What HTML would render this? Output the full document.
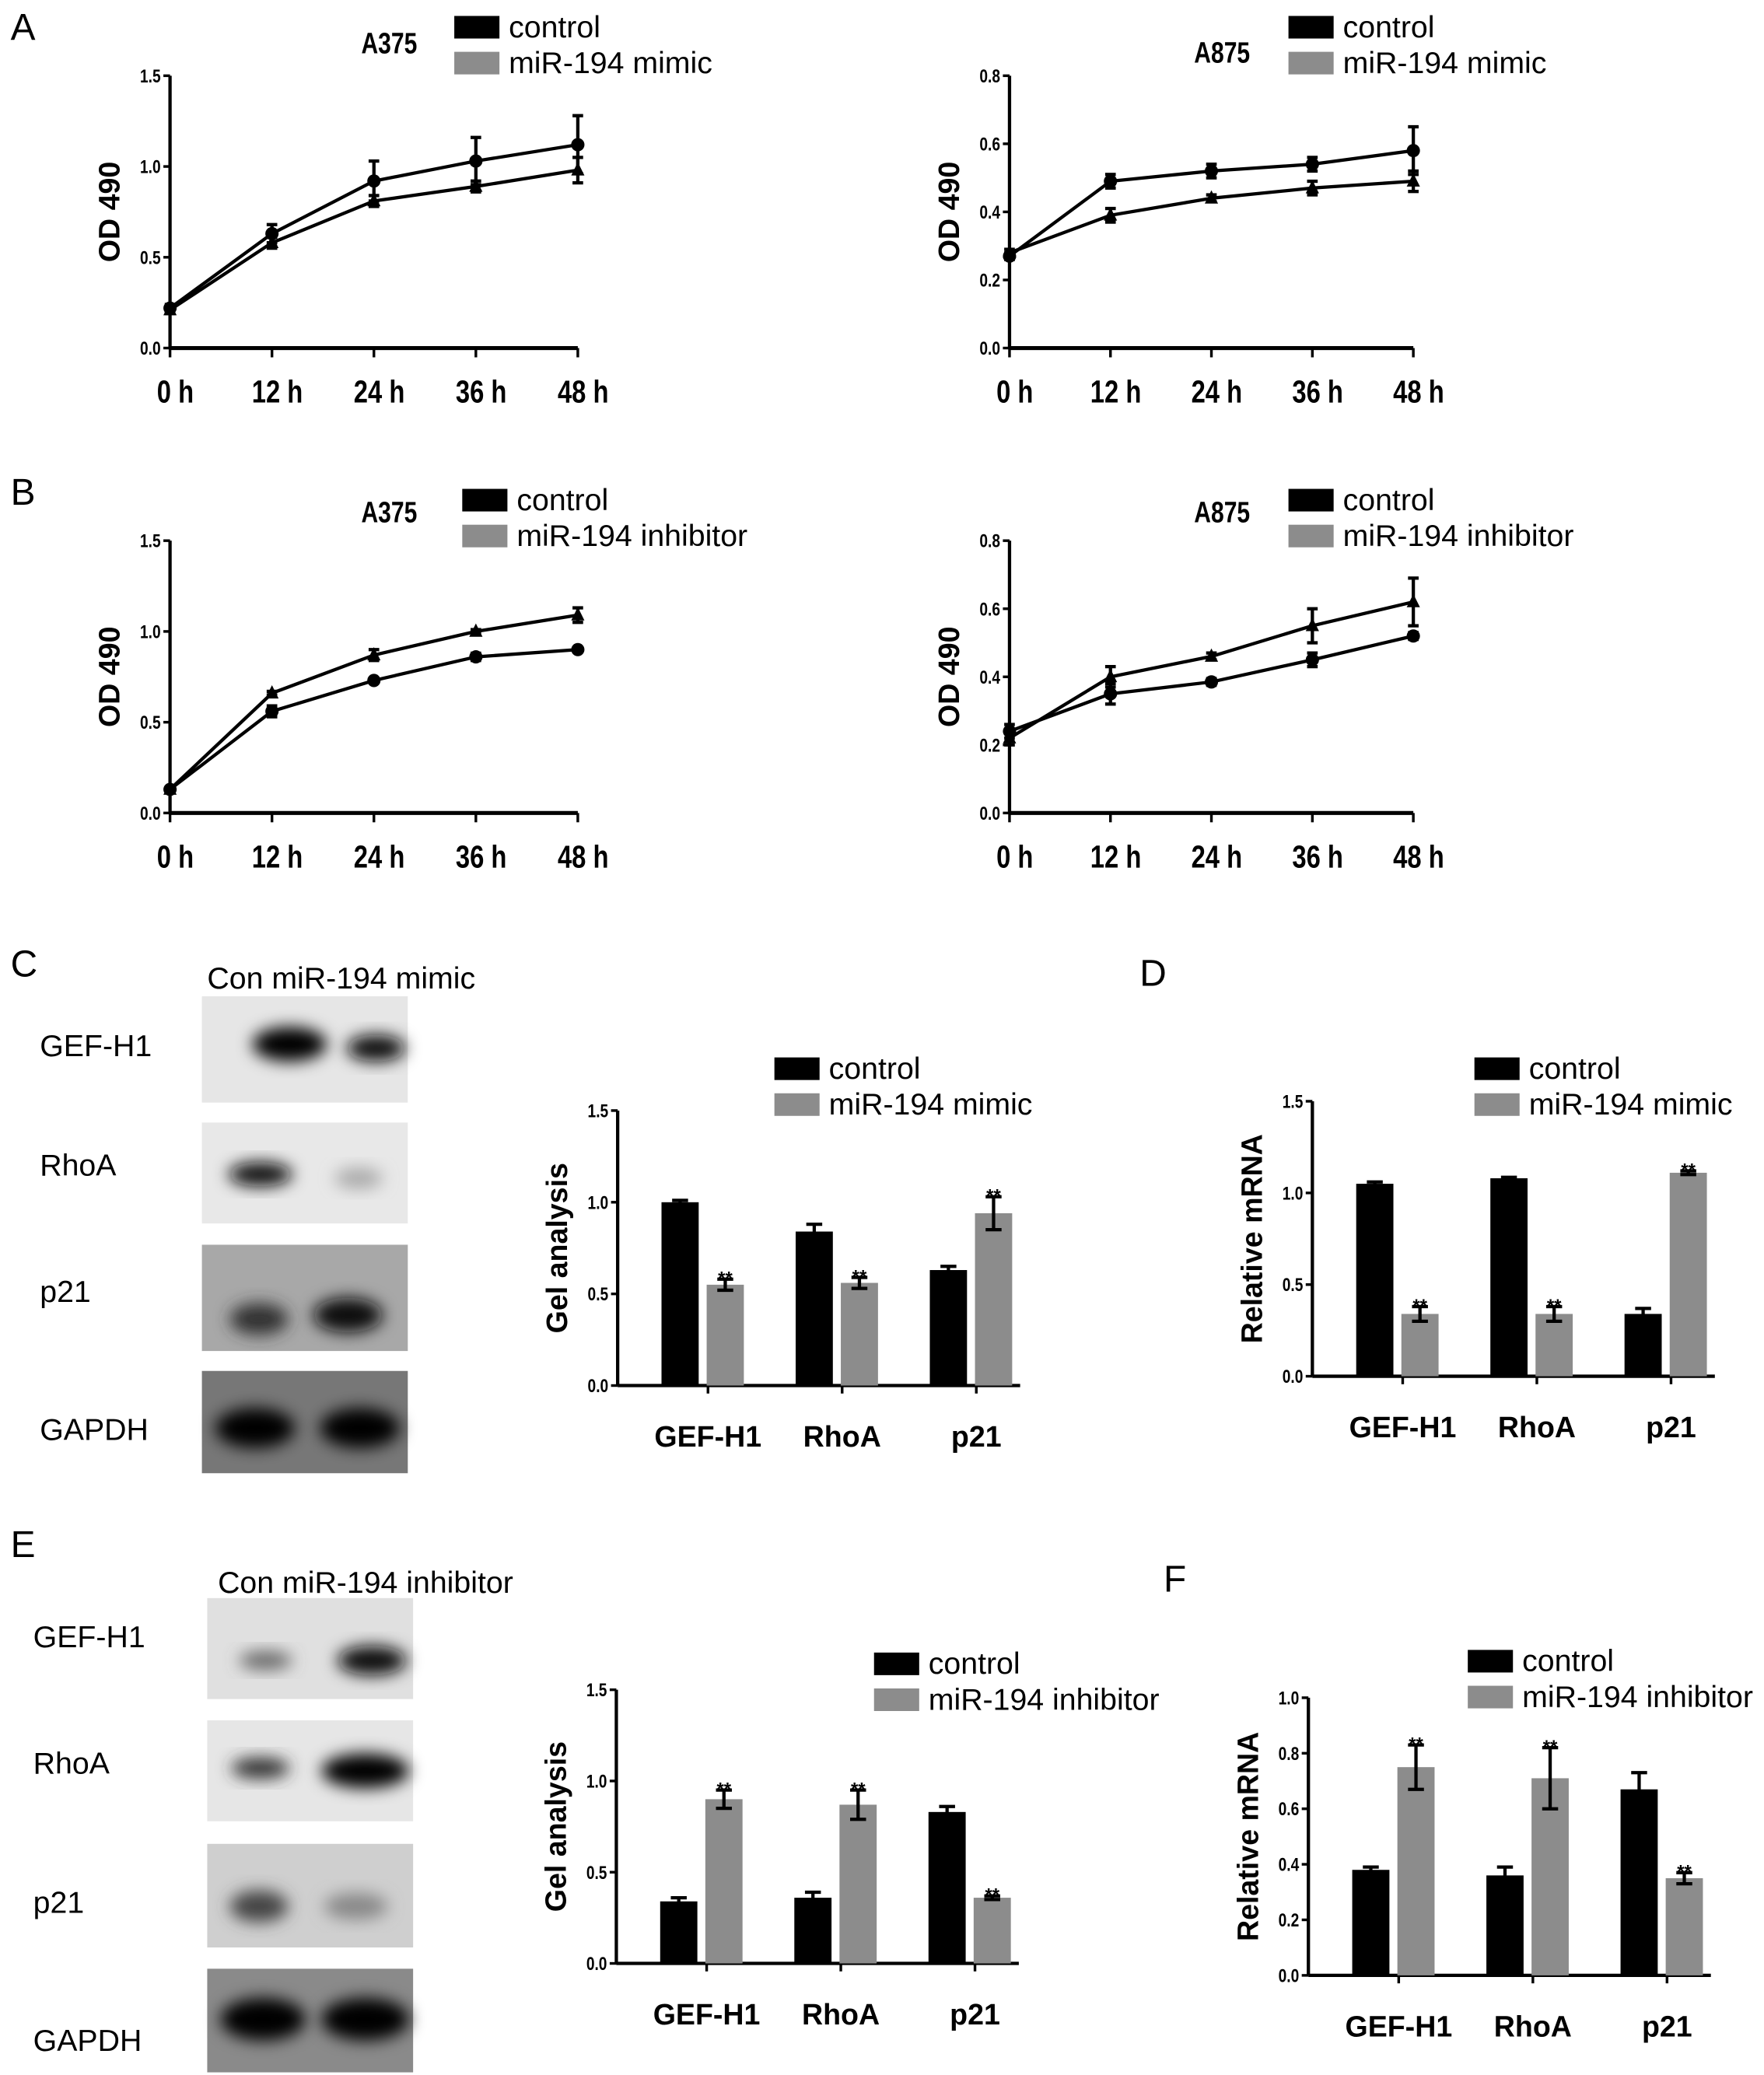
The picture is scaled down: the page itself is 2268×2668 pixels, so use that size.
<!DOCTYPE html>
<html><head><meta charset="utf-8">
<style>
html,body{margin:0;padding:0;background:#fff;}
svg{display:block;}
text{font-family:"Liberation Sans",sans-serif;}
</style></head>
<body>
<svg id="fig" xmlns="http://www.w3.org/2000/svg" width="2268" height="2668" viewBox="0 0 1328 1562" preserveAspectRatio="none">
<defs>
<filter id="blur" x="-50%" y="-50%" width="200%" height="200%"><feGaussianBlur stdDeviation="6"/></filter>
</defs>
<g id="static">
<text x="8" y="30" font-size="28">A</text>
<text x="8" y="380" font-size="28">B</text>
<text x="8" y="735" font-size="28">C</text>
<text x="858" y="742" font-size="28">D</text>
<text x="8" y="1172" font-size="28">E</text>
<text x="876" y="1198" font-size="28">F</text>

<text x="156" y="744" font-size="23">Con miR-194 mimic</text>
<text x="164" y="1199" font-size="23">Con miR-194 inhibitor</text>

<g>
 <rect x="152" y="750" width="155" height="80" fill="#e6e6e6"/>
 <ellipse cx="218" cy="786" rx="28" ry="13" fill="#000" filter="url(#blur)"/>
 <ellipse cx="283" cy="789" rx="22" ry="10" fill="#111" filter="url(#blur)"/>
 <rect x="152" y="845" width="155" height="76" fill="#e8e8e8"/>
 <ellipse cx="196" cy="884" rx="24" ry="9" fill="#111" filter="url(#blur)"/>
 <ellipse cx="270" cy="887" rx="18" ry="8" fill="#aaa" filter="url(#blur)"/>
 <rect x="152" y="937" width="155" height="80" fill="#a8a8a8"/>
 <ellipse cx="195" cy="993" rx="22" ry="12" fill="#333" filter="url(#blur)"/>
 <ellipse cx="262" cy="990" rx="26" ry="13" fill="#111" filter="url(#blur)"/>
 <rect x="152" y="1032" width="155" height="77" fill="#777"/>
 <ellipse cx="192" cy="1075" rx="30" ry="15" fill="#000" filter="url(#blur)"/>
 <ellipse cx="271" cy="1075" rx="30" ry="15" fill="#000" filter="url(#blur)"/>
</g>
<text x="30" y="795" font-size="23">GEF-H1</text>
<text x="30" y="885" font-size="23">RhoA</text>
<text x="30" y="980" font-size="23">p21</text>
<text x="30" y="1084" font-size="23">GAPDH</text>

<g>
 <rect x="156" y="1203" width="155" height="76" fill="#e0e0e0"/>
 <ellipse cx="200" cy="1250" rx="20" ry="7" fill="#666" filter="url(#blur)"/>
 <ellipse cx="280" cy="1250" rx="26" ry="11" fill="#111" filter="url(#blur)"/>
 <rect x="156" y="1295" width="155" height="76" fill="#e6e6e6"/>
 <ellipse cx="196" cy="1331" rx="22" ry="8" fill="#333" filter="url(#blur)"/>
 <ellipse cx="275" cy="1333" rx="33" ry="13" fill="#000" filter="url(#blur)"/>
 <rect x="156" y="1388" width="155" height="78" fill="#cfcfcf"/>
 <ellipse cx="195" cy="1435" rx="22" ry="12" fill="#444" filter="url(#blur)"/>
 <ellipse cx="268" cy="1435" rx="24" ry="10" fill="#888" filter="url(#blur)"/>
 <rect x="156" y="1482" width="155" height="78" fill="#8a8a8a"/>
 <ellipse cx="198" cy="1520" rx="32" ry="16" fill="#000" filter="url(#blur)"/>
 <ellipse cx="275" cy="1520" rx="33" ry="16" fill="#000" filter="url(#blur)"/>
</g>
<text x="25" y="1240" font-size="23">GEF-H1</text>
<text x="25" y="1335" font-size="23">RhoA</text>
<text x="25" y="1440" font-size="23">p21</text>
<text x="25" y="1544" font-size="23">GAPDH</text>
</g>
<g id="charts"></g>
</svg>
<script>
// ---- Line chart data (time points) ----
var timeLabels = ["0 h","12 h","24 h","36 h","48 h"];
var yTicksA375 = ["0.0","0.5","1.0","1.5"];
var yTicksA875 = ["0.0","0.2","0.4","0.6","0.8"];
// Panel A, A375
var aLeftControl = [0.22,0.63,0.92,1.03,1.12];
var aLeftControlErr = [0.02,0.05,0.11,0.13,0.16];
var aLeftMimic = [0.21,0.58,0.81,0.89,0.98];
var aLeftMimicErr = [0.02,0.03,0.03,0.03,0.07];
// Panel A, A875
var aRightControl = [0.27,0.49,0.52,0.54,0.58];
var aRightControlErr = [0.01,0.02,0.02,0.02,0.07];
var aRightMimic = [0.28,0.39,0.44,0.47,0.49];
var aRightMimicErr = [0.01,0.02,0.01,0.02,0.03];
// Panel B, A375
var bLeftControl = [0.13,0.56,0.73,0.86,0.90];
var bLeftControlErr = [0.01,0.03,0.01,0.02,0.01];
var bLeftInhib = [0.13,0.66,0.87,1.00,1.09];
var bLeftInhibErr = [0.01,0.01,0.03,0.01,0.04];
// Panel B, A875
var bRightControl = [0.24,0.35,0.385,0.45,0.52];
var bRightControlErr = [0.02,0.03,0.01,0.02,0.01];
var bRightInhib = [0.22,0.40,0.46,0.55,0.62];
var bRightInhibErr = [0.02,0.03,0.01,0.05,0.07];
// ---- Bar chart data ----
var genes = ["GEF-H1","RhoA","p21"];
var yTicksBar15 = ["0.0","0.5","1.0","1.5"];
var yTicksBar10 = ["0.0","0.2","0.4","0.6","0.8","1.0"];
var cControl = [1.00,0.84,0.63];
var cControlErr = [0.01,0.04,0.02];
var cMimic = [0.55,0.56,0.94];
var cMimicErr = [0.03,0.03,0.09];
var dControl = [1.05,1.08,0.34];
var dControlErr = [0.01,0.005,0.03];
var dMimic = [0.34,0.34,1.11];
var dMimicErr = [0.04,0.04,0.01];
var eControl = [0.34,0.36,0.83];
var eControlErr = [0.02,0.03,0.03];
var eInhib = [0.90,0.87,0.36];
var eInhibErr = [0.05,0.08,0.01];
var fControl = [0.38,0.36,0.67];
var fControlErr = [0.01,0.03,0.06];
var fInhib = [0.75,0.71,0.35];
var fInhibErr = [0.08,0.11,0.02];

var NS = "http://www.w3.org/2000/svg";
var root = document.getElementById('charts');
function mk(tag, attrs, parent){
  var e = document.createElementNS(NS, tag);
  for (var k in attrs) e.setAttribute(k, attrs[k]);
  (parent||root).appendChild(e);
  return e;
}
function txt(parent, x, y, s, size, cls, anchor, weight){
  var t = mk('text', {x:x, y:y, 'font-size':size, 'text-anchor':anchor||'start'}, parent);
  if (cls) t.setAttribute('class', cls);
  if (weight) t.setAttribute('font-weight', weight);
  t.textContent = s;
  return t;
}
function legend(g, x, y, labels, colors){
  for (var i=0;i<labels.length;i++){
    var r = mk('rect', {x:x, y:y+i*27, width:34, height:17, fill:colors[i]}, g);
    
    
    var t = txt(g, x+41, y+i*27+16, labels[i], 23, null);
    
    
  }
}
function yAxis(g, ax, yBot, yTop, ticks, yMax, title){
  mk('line', {x1:ax, y1:yTop, x2:ax, y2:yBot, stroke:'#000','stroke-width':2.5}, g);
  for (var i=0;i<ticks.length;i++){
    var v = parseFloat(ticks[i]);
    var y = yBot - (yBot-yTop)*v/yMax;
    mk('line', {x1:ax-5, y1:y, x2:ax, y2:y, stroke:'#000','stroke-width':2}, g);
    var t = txt(g, ax-7, y+5, ticks[i], 14, 'n', 'end', 'bold');
    
    
  }
  var cy = (yTop+yBot)/2;
  var tt = txt(g, 0, 0, title, 22, null, 'middle', 'bold');
  tt.setAttribute('transform', 'translate('+(ax-38)+','+cy+') rotate(-90)');
  
  
}
function lineChart(name, ax, x48, yBot, yTop, yMax, yTicks, title, titleX, titleY, legX, legY, legLabels, s1, e1, s2, e2){
  var g = mk('g', {});
  
  
  var step = (x48-ax)/(timeLabels.length-1);
  function X(i){ return ax + i*step; }
  function Y(v){ return yBot - (yBot-yTop)*v/yMax; }
  yAxis(g, ax, yBot, yTop, yTicks, yMax, 'OD 490');
  mk('line', {x1:ax, y1:yBot, x2:x48, y2:yBot, stroke:'#000','stroke-width':3}, g);
  for (var i=0;i<timeLabels.length;i++){
    mk('line', {x1:X(i), y1:yBot, x2:X(i), y2:yBot+7, stroke:'#000','stroke-width':2}, g);
    var t = txt(g, X(i)+4, yBot+41, timeLabels[i], 24, 'n', 'middle', 'bold');
    
    
  }
  var series = [[s1,e1,'circle'],[s2,e2,'triangle']];
  series.forEach(function(s){
    var pts = s[0].map(function(v,i){ return X(i)+','+Y(v); }).join(' ');
    var pl = mk('polyline', {points:pts, fill:'none', stroke:'#000','stroke-width':2.5}, g);
    
    
    s[0].forEach(function(v,i){
      var x = X(i), y1 = Y(v+s[1][i]), y2 = Y(v-s[1][i]);
      mk('line', {x1:x, y1:y1, x2:x, y2:y2, stroke:'#000','stroke-width':2.5}, g);
      mk('line', {x1:x-4, y1:y1, x2:x+4, y2:y1, stroke:'#000','stroke-width':2.5}, g);
      mk('line', {x1:x-4, y1:y2, x2:x+4, y2:y2, stroke:'#000','stroke-width':2.5}, g);
      var m;
      if (s[2]==='circle') m = mk('circle', {cx:x, cy:Y(v), r:5, fill:'#000'}, g);
      else m = mk('polygon', {points:(x)+','+(Y(v)-6)+' '+(x-5)+','+(Y(v)+4)+' '+(x+5)+','+(Y(v)+4), fill:'#000'}, g);
      
      
    });
  });
  var tt = txt(g, titleX, titleY, title, 22, 'n', 'middle', 'bold');
  
  
  legend(g, legX, legY, legLabels, ['#000','#8c8c8c']);
}
function barChart(name, ax, yBot, yTop, yMax, yTicks, cats, title, legX, legY, legLabels, c, ce, t, te){
  var g = mk('g', {});
  
  
  function Y(v){ return yBot - (yBot-yTop)*v/yMax; }
  yAxis(g, ax, yBot, yTop, yTicks, yMax, title);
  var spacing = 101, first = ax + 68, axEnd = ax + 303;
  mk('line', {x1:ax, y1:yBot, x2:axEnd, y2:yBot, stroke:'#000','stroke-width':2.5}, g);
  var bw = 28;
  for (var i=0;i<cats.length;i++){
    var cx = first + i*spacing;
    mk('line', {x1:cx, y1:yBot, x2:cx, y2:yBot+6, stroke:'#000','stroke-width':2}, g);
    var lt = txt(g, cx, yBot+46, cats[i], 22, null, 'middle', 'bold');
    
    
    [[c, ce, '#000', cx-35, 'control-bar'],[t, te, '#8c8c8c', cx-1, 'treatment-bar']].forEach(function(b){
      var v = b[0][i], e = b[1][i], x = b[3];
      var r = mk('rect', {x:x, y:Y(v), width:bw, height:yBot-Y(v), fill:b[2]}, g);
      
      
      var mx = x + bw/2;
      mk('line', {x1:mx, y1:Y(v+e), x2:mx, y2:Y(v-e), stroke:'#000','stroke-width':2.5}, g);
      mk('line', {x1:mx-6, y1:Y(v+e), x2:mx+6, y2:Y(v+e), stroke:'#000','stroke-width':2.5}, g);
      if (b[4]==='treatment-bar'){
        mk('line', {x1:mx-6, y1:Y(v-e), x2:mx+6, y2:Y(v-e), stroke:'#000','stroke-width':2.5}, g);
        var s = txt(g, mx, Y(v+e)+4, '**', 14, null, 'middle', 'bold');
        
        
      }
    });
  }
  legend(g, legX, legY, legLabels, ['#000','#8c8c8c']);
}
lineChart('chart-a-a375', 128, 435, 262, 57, 1.5, yTicksA375, 'A375', 293, 40, 342, 12, ['control','miR-194 mimic'], aLeftControl, aLeftControlErr, aLeftMimic, aLeftMimicErr);
lineChart('chart-a-a875', 760, 1064, 262, 57, 0.8, yTicksA875, 'A875', 920, 47, 970, 12, ['control','miR-194 mimic'], aRightControl, aRightControlErr, aRightMimic, aRightMimicErr);
lineChart('chart-b-a375', 128, 435, 612, 407, 1.5, yTicksA375, 'A375', 293, 393, 348, 368, ['control','miR-194 inhibitor'], bLeftControl, bLeftControlErr, bLeftInhib, bLeftInhibErr);
lineChart('chart-b-a875', 760, 1064, 612, 407, 0.8, yTicksA875, 'A875', 920, 393, 970, 368, ['control','miR-194 inhibitor'], bRightControl, bRightControlErr, bRightInhib, bRightInhibErr);
barChart('chart-c-gel', 465, 1043, 836, 1.5, yTicksBar15, genes, 'Gel analysis', 583, 796, ['control','miR-194 mimic'], cControl, cControlErr, cMimic, cMimicErr);
barChart('chart-d-mrna', 988, 1036, 829, 1.5, yTicksBar15, genes, 'Relative mRNA', 1110, 796, ['control','miR-194 mimic'], dControl, dControlErr, dMimic, dMimicErr);
barChart('chart-e-gel', 464, 1478, 1272, 1.5, yTicksBar15, genes, 'Gel analysis', 658, 1244, ['control','miR-194 inhibitor'], eControl, eControlErr, eInhib, eInhibErr);
barChart('chart-f-mrna', 985, 1487, 1278, 1.0, yTicksBar10, genes, 'Relative mRNA', 1105, 1242, ['control','miR-194 inhibitor'], fControl, fControlErr, fInhib, fInhibErr);

// condense "narrow" text to mimic the condensed typeface of the original
var narrow = document.querySelectorAll('text.n');
for (var i=0;i<narrow.length;i++){
  var el = narrow[i];
  var w = el.getComputedTextLength();
  el.setAttribute('textLength', (w*0.8).toFixed(1));
  el.setAttribute('lengthAdjust', 'spacingAndGlyphs');
}
</script>
</body></html>
